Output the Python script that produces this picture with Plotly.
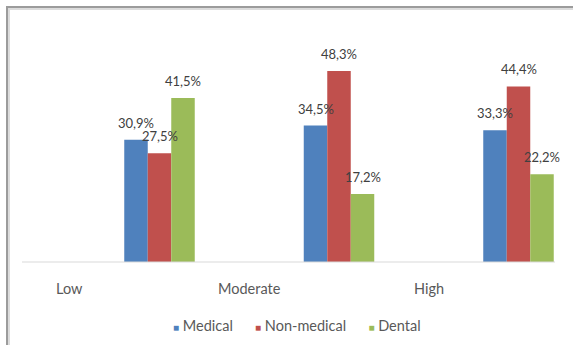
import plotly.graph_objects as go

categories = ["Low", "Moderate", "High"]
series_names = ["Medical", "Non-medical", "Dental"]
medical = [30.9, 34.5, 33.3]
non_medical = [27.5, 48.3, 44.4]
dental = [41.5, 17.2, 22.2]
colors = ["#4F81BD", "#C0504D", "#9BBB59"]

W, H = 573, 345
px_per_cat = 179.5
first_center_px = 159.5
baseline_px = 262
px_per_pct = 3.954

x0 = -first_center_px / px_per_cat
x1 = x0 + W / px_per_cat
y1 = baseline_px / px_per_pct
y0 = -(H - baseline_px) / px_per_pct

bar_w = 23.5 / px_per_cat
xs = list(range(len(categories)))

FONT = "Lato, 'Open Sans', sans-serif"

fig = go.Figure()
annotations = []
for k, (name, vals, col) in enumerate(zip(series_names, [medical, non_medical, dental], colors)):
    offs = (k - 1) * bar_w
    fig.add_trace(go.Bar(
        x=[x + offs for x in xs], y=vals, name=name, width=bar_w,
        marker=dict(color=col, line=dict(width=0)), showlegend=False,
        hoverinfo="x+y",
    ))
    for x, v in zip(xs, vals):
        annotations.append(dict(
            x=x + offs, y=v, xref="x", yref="y", text=f"{v:.1f}%".replace(".", ","),
            showarrow=False, yanchor="bottom", yshift=7,
            font=dict(family=FONT, size=13, color="#404040"),
        ))

# category labels (placed at category boundaries, as in the original)
for i, c in enumerate(categories):
    annotations.append(dict(
        x=i - 0.5, y=-6.6, xref="x", yref="y", text=c, showarrow=False,
        yanchor="middle", font=dict(family=FONT, size=14.5, color="#595959"),
    ))

# legend as text
legend_text = "&nbsp;&nbsp;&nbsp;&nbsp;&nbsp;&nbsp;".join(
    f"<span style='color:{c};font-size:10px'>■</span> {n}" for n, c in zip(series_names, colors)
)
annotations.append(dict(
    x=296.5 / W, y=1 - 325 / H, xref="paper", yref="paper", text=legend_text,
    showarrow=False, xanchor="center", yanchor="middle",
    font=dict(family=FONT, size=14.5, color="#595959"),
))

shapes = [
    # baseline
    dict(type="line", xref="paper", yref="y", x0=22 / W, x1=555 / W, y0=0, y1=0,
         line=dict(color="#d9d9d9", width=1)),
    # frame (inner light shadow)
    dict(type="path", xref="paper", yref="paper",
         path=f"M {9/W},0 L {9/W},{1-9/H} L 1,{1-9/H}",
         line=dict(color="#dcdcdc", width=2)),
    # frame
    dict(type="path", xref="paper", yref="paper",
         path=f"M {7/W},0 L {7/W},{1-7/H} L 1,{1-7/H}",
         line=dict(color="#9c9c9c", width=2)),
]

fig.update_layout(
    width=W, height=H, margin=dict(l=0, r=0, t=0, b=0),
    paper_bgcolor="white", plot_bgcolor="white",
    barmode="overlay",
    xaxis=dict(range=[x0, x1], visible=False, fixedrange=True),
    yaxis=dict(range=[y0, y1], visible=False, fixedrange=True),
    annotations=annotations, shapes=shapes, showlegend=False,
)

fig.write_html("out.html")
